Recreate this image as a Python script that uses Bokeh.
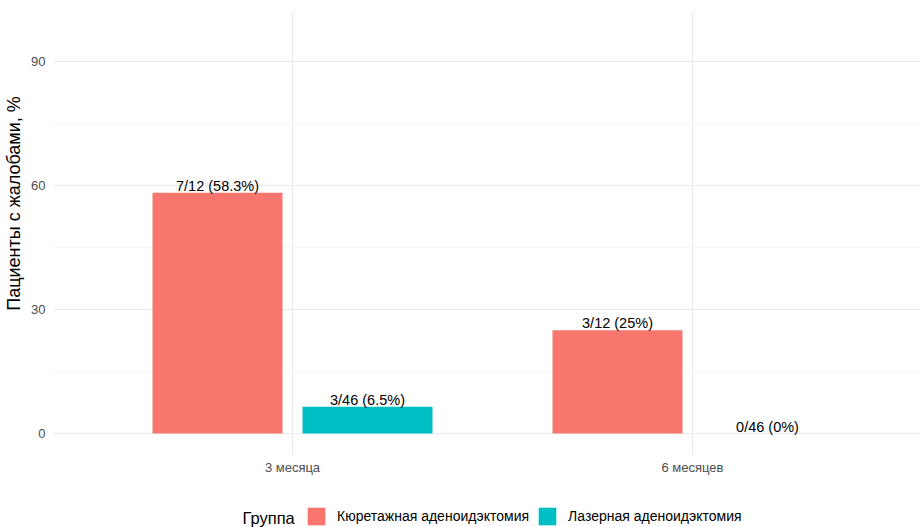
from bokeh.plotting import figure
from bokeh.layouts import column
from bokeh.models import (ColumnDataSource, Legend, LegendItem, FixedTicker, Range1d, Label)
from bokeh.transform import dodge
from bokeh.core.properties import value
from bokeh.embed import file_html
from bokeh.resources import INLINE

periods = ["3 месяца", "6 месяцев"]
groups = ["Кюретажная аденоидэктомия", "Лазерная аденоидэктомия"]
legend_title = "Группа"
y_title = "Пациенты с жалобами, %"
curettage_pct = [58.3, 25.0]
laser_pct = [6.5, 0.0]
curettage_lbl = ["7/12 (58.3%)", "3/12 (25%)"]
laser_lbl = ["3/46 (6.5%)", "0/46 (0%)"]
colors = ["#F8766D", "#00BFC4"]
y_ticks = [0, 30, 60, 90]
y_minor = [15, 45, 75]

FONT = "Liberation Sans"

pos = [i + 1 for i in range(len(periods))]
src_a = ColumnDataSource(dict(xpos=pos, pct=curettage_pct, lbl=curettage_lbl))
src_b = ColumnDataSource(dict(xpos=pos, pct=laser_pct, lbl=laser_lbl))

off = 0.1875
w = 0.325

# ---------------- main plot ----------------
p = figure(width=920, height=477, output_backend="svg", toolbar_location=None,
           x_range=Range1d(0.4025, 2.57), y_range=Range1d(-5.3, 102.2))
p.min_border_top = 11
p.min_border_right = 0
p.min_border_left = 53
p.min_border_bottom = 20
p.outline_line_color = None
p.background_fill_color = "white"
p.border_fill_color = "white"

p.vbar(x=dodge("xpos", -off), top="pct", bottom=0, width=w,
       source=src_a, fill_color=colors[0], line_color=None)
p.vbar(x=dodge("xpos", off), top="pct", bottom=0, width=w,
       source=src_b, fill_color=colors[1], line_color=None)

for src, d in ((src_a, -off), (src_b, off)):
    p.text(x=dodge("xpos", d), y="pct", text="lbl", source=src,
           text_align="center", text_baseline="bottom", y_offset=1,
           text_font=value(FONT), text_font_size="14.5px", text_color="black")

p.xaxis.ticker = FixedTicker(ticks=pos)
p.xaxis.major_label_overrides = {x: lab for x, lab in zip(pos, periods)}
p.yaxis.ticker = FixedTicker(ticks=y_ticks, minor_ticks=y_minor)
p.yaxis.axis_label = "\u00a0" * 12 + y_title
p.yaxis.axis_label_text_font = FONT
p.yaxis.axis_label_text_font_size = "18px"
p.yaxis.axis_label_text_font_style = "normal"
p.yaxis.axis_label_text_color = "black"
p.yaxis.axis_label_standoff = 4
for ax in (p.xaxis[0], p.yaxis[0]):
    ax.axis_line_color = None
    ax.major_tick_line_color = None
    ax.minor_tick_line_color = None
    ax.major_tick_out = 0
    ax.minor_tick_out = 0
    ax.major_label_text_font = FONT
    ax.major_label_text_font_size = "13px"
    ax.major_label_text_color = "#4D4D4D"
p.yaxis.major_label_standoff = 8
p.xaxis.major_label_standoff = 4

p.xgrid.grid_line_color = "#EBEBEB"
p.xgrid.grid_line_width = 1.2
p.ygrid.grid_line_color = "#EBEBEB"
p.ygrid.grid_line_width = 1.2
p.ygrid.minor_grid_line_color = "#F3F3F3"
p.ygrid.minor_grid_line_width = 0.8

# ---------------- legend strip ----------------
lg = figure(width=920, height=50, output_backend="svg", toolbar_location=None,
            x_range=Range1d(0.4025, 2.57), y_range=Range1d(1000, 1001),
            x_axis_location=None, y_axis_location=None)
lg.min_border = 0
lg.outline_line_color = None
lg.xgrid.visible = False
lg.ygrid.visible = False
la = lg.vbar(x="xpos", top="pct", bottom=0, width=w, source=src_a,
             fill_color=colors[0], line_color=None, visible=False)
lb = lg.vbar(x="xpos", top="pct", bottom=0, width=w, source=src_b,
             fill_color=colors[1], line_color=None, visible=False)
legend = Legend(items=[LegendItem(label=groups[0], renderers=[la]),
                       LegendItem(label=groups[1], renderers=[lb])],
                orientation="horizontal", location=(252, 0),
                label_text_font=FONT, label_text_font_size="14px",
                label_text_color="black", label_height=22,
                glyph_width=22, glyph_height=22,
                spacing=7, label_standoff=10, padding=0, margin=0,
                border_line_color=None, background_fill_alpha=0)
lg.add_layout(legend, "center")
lg.add_layout(Label(x=189, y=10, x_units="screen", y_units="screen", text=legend_title,
                    text_baseline="middle", text_font=FONT, text_font_size="16.5px",
                    text_color="black"))

open("out.html", "w").write(file_html(column(p, lg, spacing=0), INLINE))
